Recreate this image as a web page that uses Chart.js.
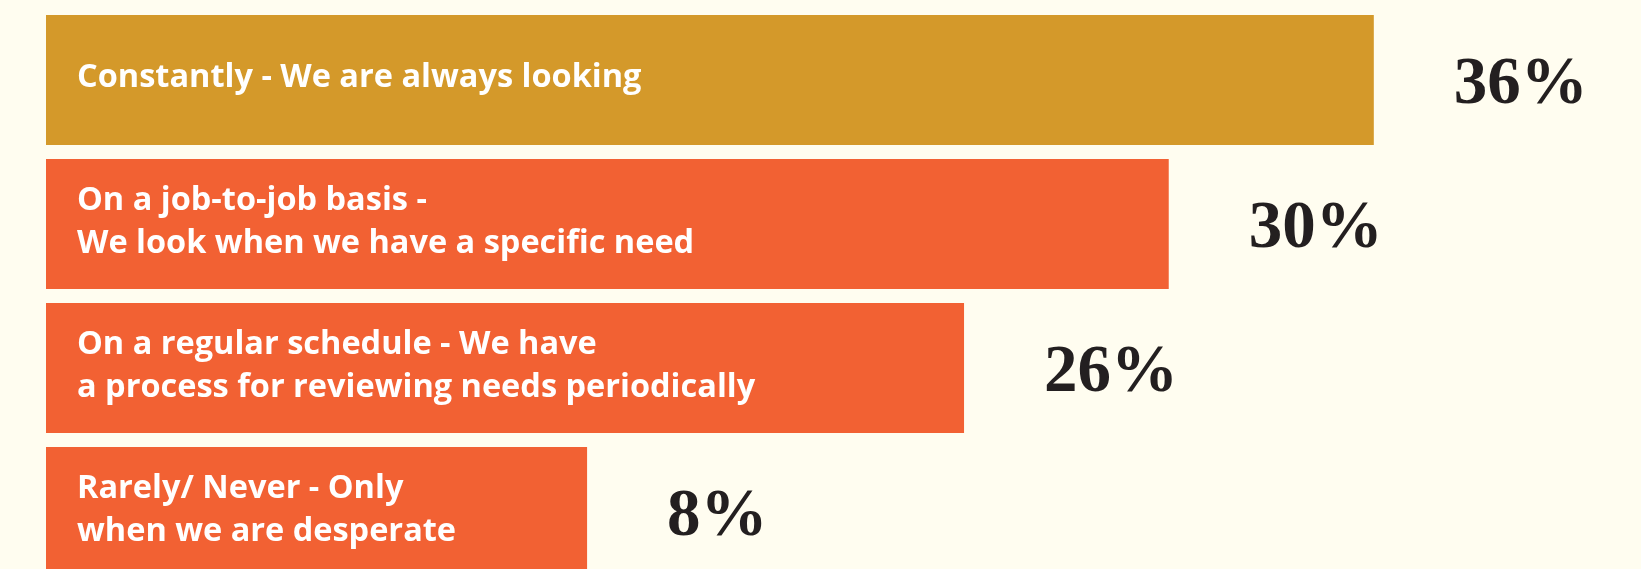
<!DOCTYPE html>
<html>
<head>
<meta charset="utf-8">
<script src="https://cdn.jsdelivr.net/npm/chart.js@4/dist/chart.umd.min.js"></script>
<style>
  html, body { margin: 0; padding: 0; background: #fffdf0; overflow: hidden; }
  #wrap { width: 1641px; height: 600px; position: relative; }
</style>
</head>
<body>
<div id="wrap"><canvas id="myChart"></canvas></div>
<script>
// answers (each one can be 2 lines in the bar)
const categories = [
  ["Constantly - We are always looking"],
  ["On a job-to-job basis -", "We look when we have a specific need"],
  ["On a regular schedule - We have", "a process for reviewing needs periodically"],
  ["Rarely/ Never - Only", "when we are desperate"]
];
// percent shown next to each bar
const shares = [36, 30, 26, 8];
// bar lengths as drawn in the picture (same units as the 36% bar)
const barLengths = [36, 30.44, 24.89, 14.67];
const barColors = ["#d4992a", "#f26133", "#f26133", "#f26133"];

// draw the white text inside the bars and the big % next to them
const barText = {
  id: "barText",
  afterDatasetsDraw(chart) {
    const ctx = chart.ctx;
    const meta = chart.getDatasetMeta(0);
    meta.data.forEach((bar, i) => {
      const lines = categories[i];
      ctx.save();
      ctx.fillStyle = "#ffffff";
      ctx.font = "700 32.5px 'Open Sans'";
      ctx.textBaseline = "middle";
      ctx.textAlign = "left";
      const lh = 43;
      const y0 = bar.y - (lines.length - 1) * lh / 2 - 2;
      lines.forEach((t, k) => {
        ctx.fillText(t, bar.base + 31, y0 + k * lh);
      });
      ctx.fillStyle = "#231f20";
      ctx.font = "700 67px 'Liberation Serif'";
      ctx.fillText(shares[i] + "%", bar.x + 80, bar.y + 6);
      ctx.restore();
    });
  }
};

const data = {
  labels: categories.map((c) => c.join(" ")),
  datasets: [
    {
      data: barLengths,
      backgroundColor: barColors,
      borderWidth: 0,
      barPercentage: 0.903,
      categoryPercentage: 1
    }
  ]
};

const config = {
  type: "bar",
  data: data,
  options: {
    indexAxis: "y",
    responsive: true,
    maintainAspectRatio: false,
    animation: false,
    layout: { padding: { left: 46, right: 9, top: 8, bottom: 16 } },
    scales: {
      x: { display: false, min: 0, max: 43 },
      y: { display: false }
    },
    plugins: { legend: { display: false }, tooltip: { enabled: false } }
  },
  plugins: [barText]
};

const myChart = new Chart(document.getElementById("myChart"), config);
</script>
</body>
</html>
